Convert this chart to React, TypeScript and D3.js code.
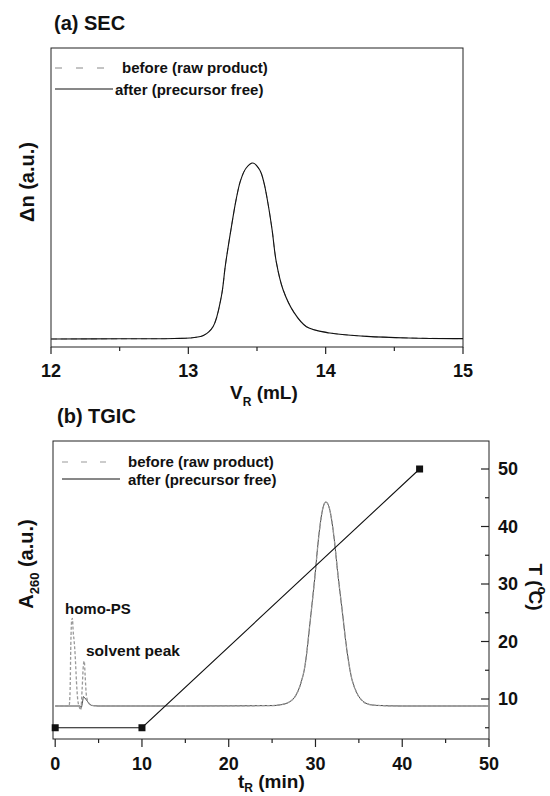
import React from "react";
import * as d3 from "d3";

// ---------- data ----------
// (a) SEC
const secV = [12.0, 12.5, 12.9, 13.01, 13.11, 13.18, 13.24, 13.27, 13.31, 13.35, 13.38, 13.42, 13.47, 13.52, 13.55, 13.58, 13.61, 13.64, 13.69, 13.77, 13.86, 14.03, 14.3, 14.6, 15.0];
const secAfter = [0, 0.001, 0.003, 0.006, 0.02, 0.07, 0.24, 0.42, 0.62, 0.8, 0.9, 0.97, 1.0, 0.96, 0.89, 0.77, 0.62, 0.44, 0.28, 0.15, 0.07, 0.034, 0.015, 0.006, 0.002];
const secBefore = [0, 0.001, 0.003, 0.006, 0.021, 0.072, 0.24, 0.42, 0.62, 0.8, 0.9, 0.97, 1.0, 0.96, 0.89, 0.77, 0.62, 0.44, 0.28, 0.15, 0.07, 0.035, 0.015, 0.006, 0.002];
const secMajorTicks = [12, 13, 14, 15];
const secMinorTicks = [12.5, 13.5, 14.5];

// (b) TGIC
const tAfter = [0, 2.9, 3.0, 3.15, 3.26, 3.4, 3.6, 3.85, 4.2, 5, 15, 25, 26, 27, 27.7, 28.3, 28.8, 29.4, 29.9, 30.4, 30.8, 31.2, 31.6, 32.1, 32.6, 33.1, 33.6, 34.1, 34.7, 35.3, 36, 37, 40, 50];
const aAfter = [0, 0, -0.008, 0.02, 0.046, 0.04, 0.03, 0.015, 0.003, 0, 0, 0.002, 0.006, 0.02, 0.05, 0.11, 0.2, 0.42, 0.62, 0.84, 0.96, 1.0, 0.97, 0.84, 0.64, 0.46, 0.28, 0.15, 0.07, 0.03, 0.01, 0.003, 0, 0];
const tBefore = [0, 1.6, 1.72, 1.8, 1.9, 1.98, 2.08, 2.18, 2.3, 2.45, 2.6, 2.75, 2.95, 3.1, 3.25, 3.35, 3.45, 3.6, 3.85, 4.2, 5, 15, 25, 26, 27, 27.7, 28.3, 28.8, 29.4, 29.9, 30.4, 30.8, 31.2, 31.6, 32.1, 32.6, 33.1, 33.6, 34.1, 34.7, 35.3, 36, 37, 40, 50];
const aBefore = [0, 0, 0.08, 0.3, 0.42, 0.43, 0.36, 0.32, 0.25, 0.12, 0.03, 0, -0.02, 0.08, 0.2, 0.22, 0.15, 0.05, 0.015, 0.003, 0, 0, 0.002, 0.006, 0.02, 0.05, 0.11, 0.2, 0.42, 0.62, 0.84, 0.96, 1.0, 0.97, 0.84, 0.64, 0.46, 0.28, 0.15, 0.07, 0.03, 0.01, 0.003, 0, 0];
const gradT = [0, 10, 42];
const gradC = [5, 5, 50];
const tgicMajorTicks = [0, 10, 20, 30, 40, 50];
const tgicMinorTicks = [5, 15, 25, 35, 45];
const tempMajorTicks = [10, 20, 30, 40, 50];
const tempMinorTicks = [5, 15, 25, 35, 45];

const FONT = "'Liberation Sans', Arial, Helvetica, sans-serif";

export default function App() {
  // panel a geometry
  const aL = 51, aR = 463, aT = 48, aB = 347;
  const xA = d3.scaleLinear().domain([12, 15]).range([aL, aR]);
  const yA = d3.scaleLinear().domain([0, 1]).range([339, 163]);
  // panel b geometry
  const bL = 53, bR = 489, bT = 441, bB = 739;
  const xB = d3.scaleLinear().domain([0, 50]).range([55.2, 489]);
  const yB = d3.scaleLinear().domain([0, 1]).range([706, 502]);
  const yT = d3.scaleLinear().domain([10, 50]).range([699, 469]);

  const lineA = d3.line<[number, number]>().x(d => xA(d[0])).y(d => yA(d[1])).curve(d3.curveCatmullRom.alpha(0.5));
  const lineB = d3.line<[number, number]>().x(d => xB(d[0])).y(d => yB(d[1])).curve(d3.curveMonotoneX);
  const lineT = d3.line<[number, number]>().x(d => xB(d[0])).y(d => yT(d[1]));

  const secAfterPts = secV.map((v, i) => [v, secAfter[i]] as [number, number]);
  const secBeforePts = secV.map((v, i) => [v, secBefore[i]] as [number, number]);
  const tgAfterPts = tAfter.map((v, i) => [v, aAfter[i]] as [number, number]);
  const tgBeforePts = tBefore.map((v, i) => [v, aBefore[i]] as [number, number]);
  const gradPts = gradT.map((v, i) => [v, gradC[i]] as [number, number]);

  const axisColor = "#222";

  return (
    <svg width={550} height={796} style={{ position: "absolute", left: 0, top: 0, background: "#fff" }} fontFamily={FONT}>
      <rect x={0} y={0} width={550} height={796} fill="#fff" />
      {/* ---------- (a) SEC ---------- */}
      <text x={54} y={30} fontSize={20} fontWeight="bold" fill="#111">(a) SEC</text>
      <rect x={aL} y={aT} width={aR - aL} height={aB - aT} fill="none" stroke={axisColor} strokeWidth={1} />
      {secMajorTicks.map(t => (
        <g key={"am" + t}>
          <line x1={xA(t)} x2={xA(t)} y1={aB} y2={aB + 7} stroke={axisColor} strokeWidth={1.2} />
          <text x={xA(t)} y={377} fontSize={18} fontWeight="bold" textAnchor="middle" fill="#111">{t}</text>
        </g>
      ))}
      {secMinorTicks.map(t => (
        <line key={"an" + t} x1={xA(t)} x2={xA(t)} y1={aB} y2={aB + 4} stroke={axisColor} strokeWidth={1.2} />
      ))}
      <path d={lineA(secBeforePts) || ""} fill="none" stroke="#888" strokeWidth={1} strokeDasharray="6,4" />
      <path d={lineA(secAfterPts) || ""} fill="none" stroke="#111" strokeWidth={1.1} />
      {/* legend a */}
      <line x1={55} x2={104} y1={68} y2={68} stroke="#888" strokeWidth={1} strokeDasharray="7,14" />
      <text x={122} y={73} fontSize={15} fontWeight="bold" fill="#111">before (raw product)</text>
      <line x1={55} x2={113} y1={89} y2={89} stroke="#111" strokeWidth={1} />
      <text x={115} y={95} fontSize={15} fontWeight="bold" fill="#111">after (precursor free)</text>
      {/* axis titles a */}
      <text x={230} y={399} fontSize={19} fontWeight="bold" fill="#111">
        <tspan>V</tspan>
        <tspan fontSize={12} dy={7}>R</tspan>
        <tspan dy={-7}> (mL)</tspan>
      </text>
      <text transform="translate(34,182) rotate(-90)" fontSize={20} fontWeight="bold" textAnchor="middle" fill="#111">Δn (a.u.)</text>

      {/* ---------- (b) TGIC ---------- */}
      <text x={57} y={423} fontSize={20} fontWeight="bold" fill="#111">(b) TGIC</text>
      <rect x={bL} y={bT} width={bR - bL} height={bB - bT} fill="none" stroke={axisColor} strokeWidth={1} />
      {tgicMajorTicks.map(t => (
        <g key={"bm" + t}>
          <line x1={xB(t)} x2={xB(t)} y1={bB} y2={bB + 8} stroke={axisColor} strokeWidth={1.2} />
          <text x={xB(t)} y={770} fontSize={18} fontWeight="bold" textAnchor="middle" fill="#111">{t}</text>
        </g>
      ))}
      {tgicMinorTicks.map(t => (
        <line key={"bn" + t} x1={xB(t)} x2={xB(t)} y1={bB} y2={bB + 4} stroke={axisColor} strokeWidth={1.2} />
      ))}
      {tempMajorTicks.map(t => (
        <g key={"tm" + t}>
          <line x1={bR - 8} x2={bR} y1={yT(t)} y2={yT(t)} stroke={axisColor} strokeWidth={1.2} />
          <text x={498} y={yT(t)} dy="0.36em" fontSize={18} fontWeight="bold" fill="#111">{t}</text>
        </g>
      ))}
      {tempMinorTicks.map(t => (
        <line key={"tn" + t} x1={bR - 4} x2={bR} y1={yT(t)} y2={yT(t)} stroke={axisColor} strokeWidth={1.2} />
      ))}
      <path d={lineB(tgAfterPts) || ""} fill="none" stroke="#444" strokeWidth={1} />
      <path d={lineB(tgBeforePts) || ""} fill="none" stroke="#999" strokeWidth={1.3} strokeDasharray="3,2" />
      <path d={lineT(gradPts) || ""} fill="none" stroke="#111" strokeWidth={1.1} />
      {gradPts.map((p, i) => (
        <rect key={"sq" + i} x={xB(p[0]) - 3.5} y={yT(p[1]) - 3.5} width={7} height={7} fill="#111" />
      ))}
      {/* annotations */}
      <text x={65} y={614} fontSize={15} fontWeight="bold" fill="#111">homo-PS</text>
      <text x={86} y={656} fontSize={15.5} fontWeight="bold" fill="#111">solvent peak</text>
      {/* legend b */}
      <line x1={62} x2={108} y1={462} y2={462} stroke="#999" strokeWidth={1} strokeDasharray="6,13" />
      <text x={128} y={467} fontSize={15} fontWeight="bold" fill="#111">before (raw product)</text>
      <line x1={62} x2={120} y1={479} y2={479} stroke="#111" strokeWidth={1} />
      <text x={128} y={485} fontSize={15} fontWeight="bold" fill="#111">after (precursor free)</text>
      {/* axis titles b */}
      <text x={238} y={788} fontSize={19} fontWeight="bold" fill="#111">
        <tspan>t</tspan>
        <tspan fontSize={12} dy={4}>R</tspan>
        <tspan dy={-4}> (min)</tspan>
      </text>
      <text transform="translate(33,564) rotate(-90)" fontSize={20} fontWeight="bold" textAnchor="middle" fill="#111">
        <tspan>A</tspan>
        <tspan fontSize={13} dy={6}>260</tspan>
        <tspan dy={-6}> (a.u.)</tspan>
      </text>
      <text transform="translate(529,587) rotate(90)" fontSize={19} fontWeight="bold" textAnchor="middle" fill="#111">
        <tspan>T (</tspan>
        <tspan fontSize={13} dy={-9}>o</tspan>
        <tspan dy={9} dx={-4}>C)</tspan>
      </text>
    </svg>
  );
}
